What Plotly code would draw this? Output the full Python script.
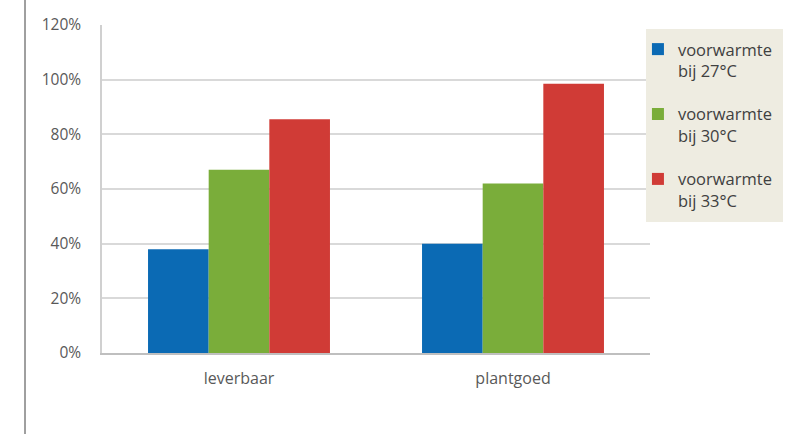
import plotly.graph_objects as go

categories = ["leverbaar", "plantgoed"]
series_names = ["voorwarmte<br>bij 27°C", "voorwarmte<br>bij 30°C", "voorwarmte<br>bij 33°C"]
values_27 = [0.38, 0.40]
values_30 = [0.67, 0.62]
values_33 = [0.855, 0.985]
colors = ["#0B6AB4", "#7AAD3A", "#D03B36"]

FONT = "Open Sans, sans-serif"

fig = go.Figure()
for i, (name, vals) in enumerate(zip(series_names, [values_27, values_30, values_33])):
    fig.add_trace(go.Bar(
        x=categories, y=vals, name=name, marker_color=colors[i],
        marker_line_width=0, legendgroup=f"g{i}",
    ))

fig.update_layout(
    width=801, height=434,
    margin=dict(l=102, r=151, t=25, b=81),
    paper_bgcolor="white", plot_bgcolor="white",
    barmode="group", bargap=0.336, bargroupgap=0,
    font=dict(family=FONT, size=16, color="#595959"),
    showlegend=True,
    legend=dict(
        x=0.978, y=0.979, xanchor="left", yanchor="top",
        bgcolor="rgba(0,0,0,0)", borderwidth=0,
        font=dict(family=FONT, size=16.5, color="#404040"),
        traceorder="grouped", tracegroupgap=19, valign="top",
        itemwidth=30,
    ),
    xaxis=dict(
        showline=True, linecolor="#BFBFBF", linewidth=1.5,
        showgrid=False, ticks="", ticklabelstandoff=10,
        tickfont=dict(size=16, color="#595959"),
    ),
    yaxis=dict(
        range=[0, 1.2], dtick=0.2, tickformat=".0%",
        showline=True, linecolor="#D0D0D0", linewidth=1.5,
        showgrid=True, gridcolor="#D9D9D9", gridwidth=1.5,
        zeroline=False, ticks="", ticklabelstandoff=16,
        tickfont=dict(size=15.5, color="#595959"),
    ),
    shapes=[
        dict(
            type="line", xref="paper", yref="paper",
            x0=-0.1405, x1=-0.1405, y0=-0.25, y1=1.08,
            line=dict(color="#808080", width=1.5),
        ),
        dict(
            type="rect", xref="paper", yref="paper", layer="above",
            x0=0.9927, x1=1.2427, y0=0.3994, y1=0.9878,
            fillcolor="#EEECE1", line=dict(width=0),
        ),
    ],
)

fig.write_html("out.html")
